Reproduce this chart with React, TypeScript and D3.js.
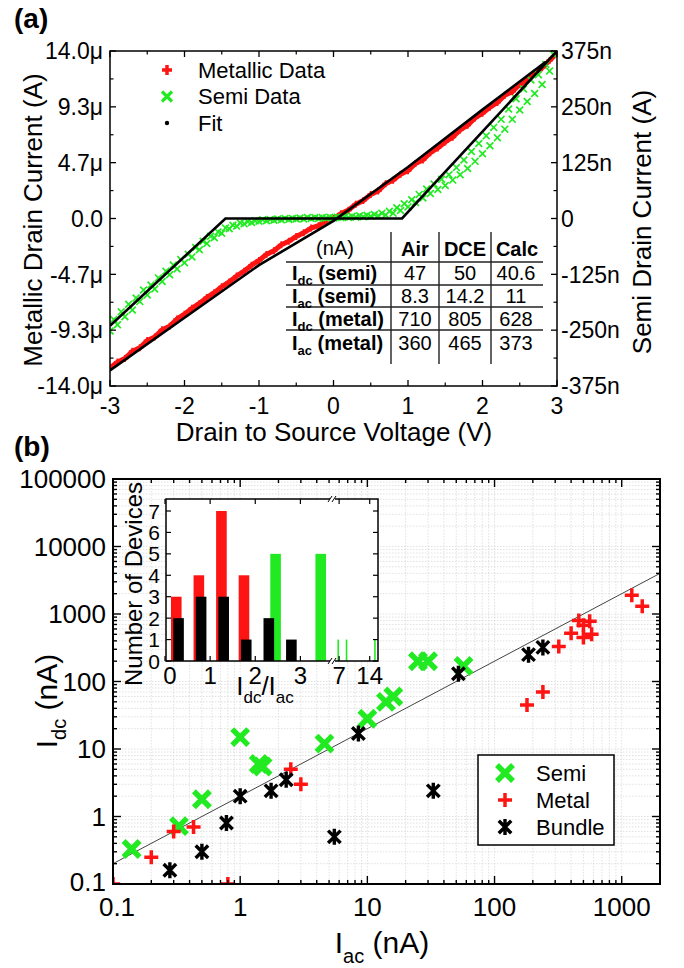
import React from 'react';
import * as d3 from 'd3';

const FONT = "'Liberation Sans', Arial, Helvetica, sans-serif";
const RED = '#ff1414';
const GREEN = '#22ea22';

// ---------------- Panel (a) data ----------------
// Metallic data: [V (V), I (µA)]
const metallicData: [number, number][] = [
  [-3.0, -12.5], [-2.9, -12.0], [-2.8, -11.7], [-2.7, -11.1], [-2.6, -10.8], [-2.5, -10.2],
  [-2.4, -9.9], [-2.3, -9.3], [-2.2, -9.0], [-2.1, -8.4], [-2.0, -8.0], [-1.9, -7.5],
  [-1.8, -7.1], [-1.7, -6.6], [-1.6, -6.2], [-1.5, -5.7], [-1.4, -5.3], [-1.3, -4.8],
  [-1.2, -4.4], [-1.1, -3.9], [-1.0, -3.5], [-0.9, -3.0], [-0.8, -2.7], [-0.7, -2.2],
  [-0.6, -1.9], [-0.5, -1.5], [-0.4, -1.2], [-0.3, -0.8], [-0.2, -0.6], [-0.1, -0.2],
  [0.0, 0.0], [0.1, 0.4], [0.2, 0.7], [0.3, 1.2], [0.4, 1.5], [0.5, 2.0], [0.6, 2.3],
  [0.7, 2.9], [0.8, 3.2], [0.9, 3.7], [1.0, 4.0], [1.1, 4.6], [1.2, 4.9], [1.3, 5.5],
  [1.4, 5.9], [1.5, 6.4], [1.6, 6.8], [1.7, 7.4], [1.8, 7.8], [1.9, 8.4], [2.0, 8.8],
  [2.1, 9.3], [2.2, 9.7], [2.3, 10.3], [2.4, 10.6], [2.5, 11.2], [2.6, 11.6], [2.7, 12.2],
  [2.8, 12.6], [2.9, 13.2], [3.0, 13.8],
];

// Semiconducting data: [V (V), I (nA)]
const semiData: [number, number][] = [
  [-3.0, -252], [-2.95, -226], [-2.9, -238], [-2.85, -209], [-2.8, -220], [-2.75, -192],
  [-2.7, -205], [-2.65, -178], [-2.6, -186], [-2.55, -160], [-2.5, -171], [-2.45, -149],
  [-2.4, -158], [-2.35, -133], [-2.3, -141], [-2.25, -118], [-2.2, -126], [-2.15, -104],
  [-2.1, -113], [-2.05, -92], [-2.0, -99], [-1.95, -80], [-1.9, -86], [-1.85, -65],
  [-1.8, -70], [-1.75, -51], [-1.7, -56], [-1.65, -40], [-1.6, -43], [-1.55, -30],
  [-1.5, -33], [-1.45, -21], [-1.4, -23], [-1.35, -15], [-1.3, -17], [-1.25, -10],
  [-1.2, -12], [-1.15, -7], [-1.1, -9], [-1.05, -5], [-1.0, -6], [-0.95, -3],
  [-0.9, -5], [-0.85, -2], [-0.8, -4], [-0.75, -1], [-0.7, -3], [-0.65, 0],
  [-0.6, -2], [-0.55, 0], [-0.5, -1], [-0.45, 1], [-0.4, -1], [-0.35, 2],
  [-0.3, 0], [-0.25, 2], [-0.2, 0], [-0.15, 2], [-0.1, 1], [-0.05, 3],
  [0.0, 1], [0.05, 3], [0.1, 2], [0.15, 4], [0.2, 2], [0.25, 5],
  [0.3, 3], [0.35, 6], [0.4, 4], [0.45, 7], [0.5, 5], [0.55, 9],
  [0.6, 6], [0.65, 12], [0.7, 8], [0.75, 16], [0.8, 12], [0.85, 24],
  [0.9, 18], [0.95, 33], [1.0, 26], [1.05, 42], [1.1, 36], [1.15, 54],
  [1.2, 46], [1.25, 66], [1.3, 56], [1.35, 77], [1.4, 65], [1.45, 88],
  [1.5, 74], [1.55, 98], [1.6, 86], [1.65, 114], [1.7, 98], [1.75, 131],
  [1.8, 112], [1.85, 150], [1.9, 128], [1.95, 168], [2.0, 145], [2.05, 185],
  [2.1, 163], [2.15, 204], [2.2, 181], [2.25, 222], [2.3, 200], [2.35, 245],
  [2.4, 222], [2.45, 268], [2.5, 243], [2.55, 290], [2.6, 262], [2.65, 310],
  [2.7, 280], [2.75, 322], [2.8, 300], [2.85, 345], [2.9, 330], [2.95, 368],
  [3.0, 375],
];

// Fits (vertices)
const metallicFit: [number, number][] = [
  [-3, -12.7], [-2, -8.3], [-1, -3.9], [0, -0.2], [1, 4.3], [2, 9.1], [2.85, 13.1],
];
const semiFit: [number, number][] = [[-3, -240], [-1.45, 0], [0.92, 0], [3, 375]];

const xTicksA = [-3, -2, -1, 0, 1, 2, 3];
const leftTickVals = [-14, -9.333, -4.667, 0, 4.667, 9.333, 14];
const leftTickLabels = ['-14.0μ', '-9.3μ', '-4.7μ', '0.0', '4.7μ', '9.3μ', '14.0μ'];
const rightTickVals = [-375, -250, -125, 0, 125, 250, 375];
const rightTickLabels = ['-375n', '-250n', '-125n', '0', '125n', '250n', '375n'];
const legendALabels = ['Metallic Data', 'Semi Data', 'Fit'];

const tableCols = ['Air', 'DCE', 'Calc'];
const tableRowSubs = ['dc', 'ac', 'dc', 'ac'];
const tableRowKinds = ['semi', 'semi', 'metal', 'metal'];
const tableValues = [
  ['47', '50', '40.6'],
  ['8.3', '14.2', '11'],
  ['710', '805', '628'],
  ['360', '465', '373'],
];

// ---------------- Panel (b) data ----------------
// [Iac (nA), Idc (nA)]
const semiPts: [number, number][] = [
  [0.14, 0.33], [0.33, 0.72], [0.5, 1.8], [1.0, 15], [1.4, 6], [1.5, 5.5], [4.6, 12],
  [10, 28], [14, 50], [16, 60], [25, 200], [30, 200], [57, 170],
];
const metalPts: [number, number][] = [
  [0.1, 0.1], [0.2, 0.25], [0.3, 0.6], [0.43, 0.7], [0.8, 0.1], [2.5, 5], [3.0, 3.0],
  [180, 45], [240, 70], [320, 330], [400, 520], [460, 800], [500, 680], [560, 780],
  [500, 450], [580, 500], [1200, 1900], [1450, 1300],
];
const bundlePts: [number, number][] = [
  [0.28, 0.16], [0.5, 0.3], [0.78, 0.8], [1.0, 2.0], [1.75, 2.4], [2.3, 3.5], [5.5, 0.5],
  [8.5, 17], [33, 2.4], [52, 130], [185, 250], [240, 320],
];
const fitRange = [0.1, 2000];
const fitRatio = 2; // Idc = 2 * Iac

const xTicksB = [0.1, 1, 10, 100, 1000];
const xTickLabelsB = ['0.1', '1', '10', '100', '1000'];
const yTicksB = [0.1, 1, 10, 100, 1000, 10000, 100000];
const yTickLabelsB = ['0.1', '1', '10', '100', '1000', '10000', '100000'];
const legendBLabels = ['Semi', 'Metal', 'Bundle'];

// Inset histogram (ratio Idc/Iac)
const metalHistX = [0.25, 0.75, 1.25, 1.75];
const metalHistN = [3, 4, 7, 4];
const bundleHistX = [0.3, 0.8, 1.3, 1.8, 2.3, 2.8];
const bundleHistN = [2, 3, 3, 1, 2, 1];
const semiHistX = [2.45, 3.45];
const semiHistN = [5, 5];
const semiHighX = [6.8, 8.7, 15.2];
const semiHighN = [1, 1, 1];
const insetLowTicks = [0, 1, 2, 3];
const insetHighTicks = [7, 14];
const insetYTicks = [0, 1, 2, 3, 4, 5, 6, 7];

// ---------------- helpers ----------------
const plusPath = (x: number, y: number, s: number) => `M${x - s},${y}H${x + s}M${x},${y - s}V${y + s}`;
const crossPath = (x: number, y: number, s: number) =>
  `M${x - s},${y - s}L${x + s},${y + s}M${x - s},${y + s}L${x + s},${y - s}`;
const starPath = (x: number, y: number, s: number) =>
  crossPath(x, y, s * 0.78) + `M${x},${y - s}V${y + s}`;

export default function App() {
  // ----- panel (a) layout -----
  const aL = 110, aR = 557, aT = 51, aB = 386;
  const xA = d3.scaleLinear().domain([-3, 3]).range([aL, aR]);
  const yAL = d3.scaleLinear().domain([-14, 14]).range([aB, aT]);
  const yAR = d3.scaleLinear().domain([-375, 375]).range([aB, aT]);
  const lineL = d3.line<[number, number]>().x((d) => xA(d[0])).y((d) => yAL(d[1]));
  const lineR = d3.line<[number, number]>().x((d) => xA(d[0])).y((d) => yAR(d[1]));
  const xMinorA = d3.pairs(xTicksA).map(([a, b]) => (a + b) / 2);
  const yMinorA = d3.pairs(leftTickVals).map(([a, b]) => (a + b) / 2);

  // ----- panel (b) layout -----
  const bL = 113, bR = 660, bT = 479, bB = 884;
  const xB = d3.scaleLog().domain([0.1, 2000]).range([bL, bR]);
  const yB = d3.scaleLog().domain([0.1, 100000]).range([bB, bT]);
  const xAllB = xB.ticks();
  const yAllB = yB.ticks();
  const isMajor = (v: number) => Math.abs(Math.log10(v) - Math.round(Math.log10(v))) < 1e-6;

  // ----- inset layout -----
  const iL = 166, iR = 378, iT = 499, iB = 661, iBreak = 332;
  const xInLow = d3.scaleLinear().domain([0, 3.7]).range([iL - 1, iBreak]);
  const xInHigh = d3.scaleLinear().domain([5.6, 15.9]).range([iBreak + 1, iR]);
  const yIn = d3.scaleLinear().domain([0, 7.56]).range([iB, iT]);
  const barW = 0.235;

  const tickFs = 23;

  return (
    <svg
      width={684}
      height={968}
      viewBox="0 0 684 968"
      style={{ position: 'absolute', left: 0, top: 0, background: '#fff' }}
      fontFamily={FONT}
    >
      <rect x={0} y={0} width={684} height={968} fill="#fff" />
      <defs>
        <clipPath id="clipA">
          <rect x={aL} y={aT} width={aR - aL} height={aB - aT} />
        </clipPath>
        <clipPath id="clipB">
          <rect x={bL} y={bT} width={bR - bL} height={bB - bT} />
        </clipPath>
      </defs>

      {/* ================= PANEL (a) ================= */}
      <text x={14} y={28} fontSize={28} fontWeight="bold">(a)</text>

      {/* data */}
      <g clipPath="url(#clipA)">
        <path d={lineL(metallicData) || ''} fill="none" stroke={RED} strokeWidth={5} />
        {metallicData.map((d, i) => (
          <path key={'m' + i} d={plusPath(xA(d[0]), yAL(d[1]), 3.5)} stroke={RED} strokeWidth={2} />
        ))}
        {semiData.map((d, i) => (
          <path key={'s' + i} d={crossPath(xA(d[0]), yAR(d[1]), 3.4)} stroke={GREEN} strokeWidth={1.7} />
        ))}
        <path d={lineL(metallicFit) || ''} fill="none" stroke="#000" strokeWidth={2.6} />
        <path d={lineR(semiFit) || ''} fill="none" stroke="#000" strokeWidth={2.6} />
      </g>

      {/* frame and ticks */}
      <rect x={aL} y={aT} width={aR - aL} height={aB - aT} fill="none" stroke="#000" strokeWidth={1.5} />
      {xTicksA.map((v) => (
        <g key={'xa' + v}>
          <line x1={xA(v)} x2={xA(v)} y1={aB} y2={aB - 6} stroke="#000" strokeWidth={1.3} />
          <line x1={xA(v)} x2={xA(v)} y1={aT} y2={aT + 6} stroke="#000" strokeWidth={1.3} />
          <text x={xA(v)} y={414} fontSize={tickFs} textAnchor="middle">{v}</text>
        </g>
      ))}
      {xMinorA.map((v) => (
        <g key={'xam' + v}>
          <line x1={xA(v)} x2={xA(v)} y1={aB} y2={aB - 3.5} stroke="#000" strokeWidth={1.2} />
          <line x1={xA(v)} x2={xA(v)} y1={aT} y2={aT + 3.5} stroke="#000" strokeWidth={1.2} />
        </g>
      ))}
      {leftTickVals.map((v, i) => (
        <g key={'ya' + i}>
          <line x1={aL} x2={aL + 6} y1={yAL(v)} y2={yAL(v)} stroke="#000" strokeWidth={1.3} />
          <text x={103} y={yAL(v)} dy="0.36em" fontSize={tickFs} textAnchor="end">{leftTickLabels[i]}</text>
        </g>
      ))}
      {rightTickVals.map((v, i) => (
        <g key={'yr' + i}>
          <line x1={aR} x2={aR - 6} y1={yAR(v)} y2={yAR(v)} stroke="#000" strokeWidth={1.3} />
          <text x={561} y={yAR(v)} dy="0.36em" fontSize={tickFs} textAnchor="start">{rightTickLabels[i]}</text>
        </g>
      ))}
      {yMinorA.map((v, i) => (
        <g key={'yam' + i}>
          <line x1={aL} x2={aL + 3.5} y1={yAL(v)} y2={yAL(v)} stroke="#000" strokeWidth={1.2} />
          <line x1={aR} x2={aR - 3.5} y1={yAL(v)} y2={yAL(v)} stroke="#000" strokeWidth={1.2} />
        </g>
      ))}

      {/* axis titles */}
      <text x={334} y={441} fontSize={26} textAnchor="middle">Drain to Source Voltage (V)</text>
      <text transform="translate(42,220) rotate(-90)" fontSize={26} textAnchor="middle">Metallic Drain Current (A)</text>
      <text transform="translate(651,222) rotate(-90)" fontSize={26} textAnchor="middle">Semi Drain Current (A)</text>

      {/* legend (a) */}
      {legendALabels.map((t, i) => {
        const ly = 70 + i * 26.5;
        return (
          <g key={'la' + i}>
            {i === 0 && <path d={plusPath(167, ly, 5)} stroke={RED} strokeWidth={3.5} />}
            {i === 1 && <path d={crossPath(167, ly, 5)} stroke={GREEN} strokeWidth={3.2} />}
            {i === 2 && <circle cx={167} cy={ly} r={2.2} fill="#000" />}
            <text x={198} y={ly} dy="0.36em" fontSize={22}>{t}</text>
          </g>
        );
      })}

      {/* table */}
      <g fontSize={20}>
        {[391, 439, 491].map((x) => (
          <line key={'tv' + x} x1={x} x2={x} y1={232} y2={364} stroke="#222" strokeWidth={1.4} />
        ))}
        {[262, 285, 307, 330].map((y) => (
          <line key={'th' + y} x1={286} x2={543} y1={y} y2={y} stroke="#222" strokeWidth={1.4} />
        ))}
        <text x={335} y={255} textAnchor="middle">(nA)</text>
        {tableCols.map((c, j) => (
          <text key={'tc' + j} x={[415, 465, 517][j]} y={256} textAnchor="middle" fontWeight="bold">{c}</text>
        ))}
        {tableValues.map((row, r) => {
          const by = [280, 303, 326, 350][r];
          return (
            <g key={'tr' + r}>
              <text x={292} y={by} fontWeight="bold">
                <tspan>I</tspan>
                <tspan fontSize={13} dy={5}>{tableRowSubs[r]}</tspan>
                <tspan dy={-5}>{` (${tableRowKinds[r]})`}</tspan>
              </text>
              {row.map((v, j) => (
                <text key={'tv' + j} x={[415, 465, 516][j]} y={by} textAnchor="middle">{v}</text>
              ))}
            </g>
          );
        })}
      </g>

      {/* ================= PANEL (b) ================= */}
      <text x={14} y={456} fontSize={28} fontWeight="bold">(b)</text>

      {/* grid */}
      <g stroke="#d4d4d4" strokeWidth={0.7} strokeDasharray="1.5,1.5">
        {xAllB.map((v, i) => (
          <line key={'gx' + i} x1={xB(v)} x2={xB(v)} y1={bT} y2={bB} />
        ))}
        {yAllB.map((v, i) => (
          <line key={'gy' + i} x1={bL} x2={bR} y1={yB(v)} y2={yB(v)} />
        ))}
      </g>

      {/* fit line + points */}
      <g clipPath="url(#clipB)">
        <line
          x1={xB(fitRange[0])}
          y1={yB(fitRange[0] * fitRatio)}
          x2={xB(fitRange[1])}
          y2={yB(fitRange[1] * fitRatio)}
          stroke="#444"
          strokeWidth={1}
        />
        {semiPts.map((d, i) => (
          <path key={'bs' + i} d={crossPath(xB(d[0]), yB(d[1]), 8)} stroke={GREEN} strokeWidth={5.5} />
        ))}
        {metalPts.map((d, i) => (
          <path key={'bm' + i} d={plusPath(xB(d[0]), yB(d[1]), 7)} stroke={RED} strokeWidth={3.5} />
        ))}
        {bundlePts.map((d, i) => (
          <path key={'bb' + i} d={starPath(xB(d[0]), yB(d[1]), 8)} stroke="#000" strokeWidth={3.4} />
        ))}
      </g>

      {/* frame + ticks (b) */}
      <rect x={bL} y={bT} width={bR - bL} height={bB - bT} fill="none" stroke="#000" strokeWidth={2} />
      {xAllB.map((v, i) => {
        const len = isMajor(v) ? 8 : 4;
        return (
          <g key={'tx' + i}>
            <line x1={xB(v)} x2={xB(v)} y1={bB} y2={bB - len} stroke="#000" strokeWidth={1.4} />
            <line x1={xB(v)} x2={xB(v)} y1={bT} y2={bT + len} stroke="#000" strokeWidth={1.4} />
          </g>
        );
      })}
      {yAllB.map((v, i) => {
        const len = isMajor(v) ? 8 : 4;
        return (
          <g key={'ty' + i}>
            <line x1={bL} x2={bL + len} y1={yB(v)} y2={yB(v)} stroke="#000" strokeWidth={1.4} />
            <line x1={bR} x2={bR - len} y1={yB(v)} y2={yB(v)} stroke="#000" strokeWidth={1.4} />
          </g>
        );
      })}
      {xTicksB.map((v, i) => (
        <text key={'xl' + i} x={xB(v) + (i === 0 ? 4 : 0)} y={916} fontSize={26} textAnchor="middle">{xTickLabelsB[i]}</text>
      ))}
      {yTicksB.map((v, i) => (
        <text key={'yl' + i} x={106} y={yB(v) - (i === 0 ? 2 : 0)} dy="0.36em" fontSize={26} textAnchor="end">{yTickLabelsB[i]}</text>
      ))}

      {/* axis titles (b) */}
      <text x={382} y={953} fontSize={30} textAnchor="middle">
        <tspan>I</tspan>
        <tspan fontSize={20} dy={10}>ac</tspan>
        <tspan dy={-10}> (nA)</tspan>
      </text>
      <text transform="translate(57,701) rotate(-90)" fontSize={30} textAnchor="middle">
        <tspan>I</tspan>
        <tspan fontSize={20} dy={9}>dc</tspan>
        <tspan dy={-9}> (nA)</tspan>
      </text>

      {/* legend (b) */}
      <rect x={478} y={755} width={136} height={90} fill="#fff" stroke="#000" strokeWidth={1.5} />
      {legendBLabels.map((t, i) => {
        const ly = 773 + i * 27;
        return (
          <g key={'lb' + i}>
            {i === 0 && <path d={crossPath(505, ly, 8)} stroke={GREEN} strokeWidth={5.5} />}
            {i === 1 && <path d={plusPath(505, ly, 7)} stroke={RED} strokeWidth={3.5} />}
            {i === 2 && <path d={starPath(505, ly, 8)} stroke="#000" strokeWidth={3.4} />}
            <text x={536} y={ly} dy="0.36em" fontSize={22}>{t}</text>
          </g>
        );
      })}

      {/* ================= INSET ================= */}
      <rect x={iL} y={iT} width={iR - iL} height={iB - iT} fill="#fff" />
      {metalHistX.map((x, i) => (
        <rect
          key={'hm' + i}
          x={xInLow(x - barW / 2)}
          y={yIn(metalHistN[i])}
          width={xInLow(barW) - xInLow(0)}
          height={yIn(0) - yIn(metalHistN[i])}
          fill={RED}
        />
      ))}
      {semiHistX.map((x, i) => (
        <rect
          key={'hs' + i}
          x={xInLow(x - barW / 2)}
          y={yIn(semiHistN[i])}
          width={xInLow(barW) - xInLow(0)}
          height={yIn(0) - yIn(semiHistN[i])}
          fill={GREEN}
        />
      ))}
      {bundleHistX.map((x, i) => (
        <rect
          key={'hb' + i}
          x={xInLow(x - barW / 2)}
          y={yIn(bundleHistN[i])}
          width={xInLow(barW) - xInLow(0)}
          height={yIn(0) - yIn(bundleHistN[i])}
          fill="#000"
        />
      ))}
      {semiHighX.map((x, i) => (
        <line
          key={'hh' + i}
          x1={xInHigh(x)}
          x2={xInHigh(x)}
          y1={yIn(0)}
          y2={yIn(semiHighN[i])}
          stroke={GREEN}
          strokeWidth={1.6}
        />
      ))}
      <rect x={iL} y={iT} width={iR - iL} height={iB - iT} fill="none" stroke="#000" strokeWidth={1.5} />
      {insetYTicks.map((v) => (
        <g key={'iy' + v}>
          <line x1={iL} x2={iL + 5} y1={yIn(v)} y2={yIn(v)} stroke="#000" strokeWidth={1.2} />
          <line x1={iR} x2={iR - 5} y1={yIn(v)} y2={yIn(v)} stroke="#000" strokeWidth={1.2} />
          <text x={160} y={yIn(v)} dy="0.36em" fontSize={21} textAnchor="end">{v}</text>
        </g>
      ))}
      {insetLowTicks.map((v) => (
        <g key={'ixl' + v}>
          <line x1={xInLow(v)} x2={xInLow(v)} y1={iB} y2={iB - 5} stroke="#000" strokeWidth={1.2} />
          <line x1={xInLow(v)} x2={xInLow(v)} y1={iT} y2={iT + 5} stroke="#000" strokeWidth={1.2} />
          <text x={xInLow(v) + (v === 0 ? 5 : 0)} y={684} fontSize={24} textAnchor="middle">{v}</text>
        </g>
      ))}
      {insetHighTicks.map((v) => (
        <g key={'ixh' + v}>
          <line x1={xInHigh(v)} x2={xInHigh(v)} y1={iB} y2={iB - 5} stroke="#000" strokeWidth={1.2} />
          <line x1={xInHigh(v)} x2={xInHigh(v)} y1={iT} y2={iT + 5} stroke="#000" strokeWidth={1.2} />
          <text x={xInHigh(v)} y={684} fontSize={24} textAnchor="middle">{v}</text>
        </g>
      ))}
      {/* axis break marks */}
      {[iT, iB].map((y) => (
        <g key={'br' + y}>
          <rect x={iBreak - 2} y={y - 2} width={5} height={4} fill="#fff" />
          <line x1={iBreak - 4} x2={iBreak} y1={y + 3} y2={y - 3} stroke="#000" strokeWidth={1} />
          <line x1={iBreak} x2={iBreak + 4} y1={y + 3} y2={y - 3} stroke="#000" strokeWidth={1} />
        </g>
      ))}
      <text transform="translate(142,584) rotate(-90)" fontSize={24} textAnchor="middle">Number of Devices</text>
      <text x={265} y={695} fontSize={26} textAnchor="middle">
        <tspan>I</tspan>
        <tspan fontSize={17} dy={8}>dc</tspan>
        <tspan dy={-8}>/I</tspan>
        <tspan fontSize={17} dy={8}>ac</tspan>
      </text>
    </svg>
  );
}
